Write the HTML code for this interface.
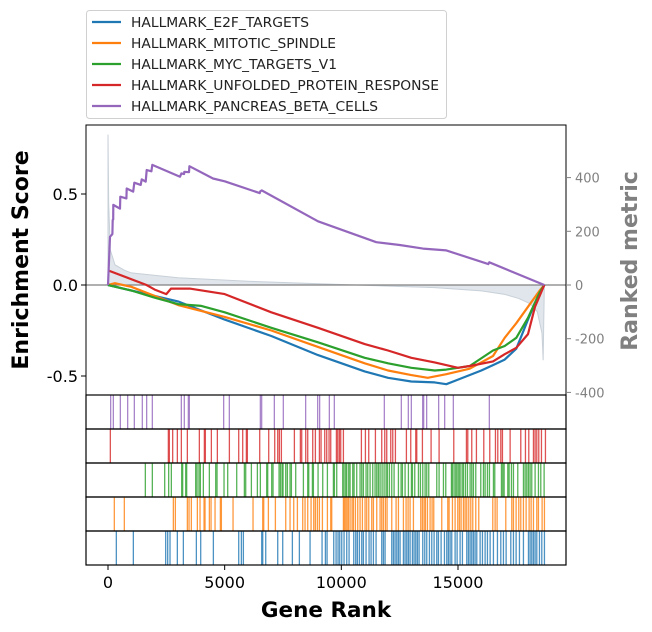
<!DOCTYPE html>
<html><head><meta charset="utf-8"><style>
html,body{margin:0;padding:0;background:#fff;}
svg{display:block;font-family:"DejaVu Sans","Liberation Sans",sans-serif;}
</style></head><body>
<svg id="chart" width="652" height="632" xmlns="http://www.w3.org/2000/svg"></svg>
<script>
// ---- data ----
const seriesNames = ["HALLMARK_E2F_TARGETS","HALLMARK_MITOTIC_SPINDLE","HALLMARK_MYC_TARGETS_V1","HALLMARK_UNFOLDED_PROTEIN_RESPONSE","HALLMARK_PANCREAS_BETA_CELLS"];
const seriesColors = ["#1f77b4","#ff7f0e","#2ca02c","#d62728","#9467bd"];
const xTicks = [0,5000,10000,15000];
const yTicks = [0.5,0.0,-0.5];
const yTickLabels = ["0.5","0.0","-0.5"];
const y2Ticks = [400,200,0,-200,-400];

const e2fRanks = [0,1000,3000,5000,7000,9000,11000,12000,13000,14000,14500,15000,16000,16500,17000,17500,18000,18300,18600,18700];
const e2fES =    [0,-0.03,-0.09,-0.19,-0.28,-0.385,-0.475,-0.51,-0.53,-0.535,-0.545,-0.52,-0.47,-0.44,-0.41,-0.35,-0.19,-0.1,-0.02,0];
const mitRanks = [0,300,1000,3000,5000,7000,9000,11000,12000,13000,13700,14500,15500,16500,17000,17500,18000,18500,18700];
const mitES =    [0,0.01,-0.01,-0.11,-0.175,-0.25,-0.34,-0.43,-0.47,-0.495,-0.51,-0.49,-0.46,-0.39,-0.29,-0.21,-0.12,-0.03,0];
const mycRanks = [0,1000,2000,3000,4000,5000,7000,9000,11000,12000,13000,14000,14500,15500,16500,17000,17500,18000,18500,18700];
const mycES =    [0,-0.03,-0.07,-0.105,-0.115,-0.15,-0.235,-0.315,-0.4,-0.43,-0.455,-0.47,-0.465,-0.445,-0.36,-0.335,-0.29,-0.18,-0.04,0];
const uprRanks = [0,1650,2000,2500,2700,3500,5000,7000,9000,11000,12000,13000,14000,15000,15500,16500,17000,17500,18000,18300,18700];
const uprES =    [0.08,0,-0.025,-0.05,-0.02,-0.02,-0.05,-0.15,-0.235,-0.325,-0.36,-0.4,-0.425,-0.455,-0.445,-0.42,-0.38,-0.345,-0.27,-0.12,0];
const pbcRanks = [0,86,190,200,225,229,514,529,790,800,1080,1129,1400,1443,1615,1657,1860,1900,3086,3144,3260,3272,3470,3487,4500,5000,6500,6529,6586,9000,11500,12500,13500,14500,16300,16343,18700];
const pbcES =    [0,0.265,0.28,0.357,0.36,0.44,0.42,0.485,0.476,0.53,0.513,0.562,0.55,0.58,0.568,0.632,0.625,0.66,0.595,0.613,0.61,0.622,0.62,0.653,0.585,0.57,0.505,0.515,0.52,0.35,0.235,0.22,0.2,0.19,0.115,0.125,0];

const metricRanks =  [0,30,100,300,700,1000,3000,6000,10000,14000,16000,17000,17600,18100,18400,18600,18650,18700];
const metricValues = [560,300,130,75,55,45,27,14,2,-10,-22,-35,-50,-70,-100,-180,-280,0];

const pbcHits = [114,229,529,843,1129,1471,1657,1900,3143,3271,3443,3486,4957,5200,6529,6586,7129,7514,8471,8986,9071,9486,9700,11843,12571,12871,13000,13486,13529,13657,14171,14429,14800,16343];
const uprHits = [100,2586,2629,2772,2972,3144,3401,3915,4130,4173,4430,4687,5202,5602,5773,5930,5973,6502,6888,7145,7274,7345,7431,7988,8245,8302,8474,8560,8774,8888,9060,9131,9289,9374,9474,9546,9789,9846,9917,9974,10089,10860,11032,11175,11461,11732,11861,11946,12118,12204,12318,12789,12975,13190,13233,13475,13847,14190,14819,15362,15419,15590,15790,16105,16362,16605,16705,16834,16905,17234,17691,17891,18034,18234,18305,18377,18462,18577,18748];
const mycHits = [1600,1900,2430,2600,2715,3158,3200,3330,3372,3758,3815,3900,3958,4087,4344,4616,4673,4973,5130,5516,5845,5902,6145,6402,6530,6802,6845,7016,7073,7331,7388,7459,7502,7617,7688,7802,7860,8045,8374,8560,8603,8760,8803,9003,9203,9403,9660,9703,9803,10060,10117,10189,10232,10317,10375,10489,10546,10660,10803,10875,10946,11060,11132,11232,11346,11446,11518,11589,11661,11747,11832,11918,11975,12061,12161,12261,12447,12561,12618,12732,12875,13004,13047,13147,13304,13390,13490,13590,13661,13747,14090,14190,14376,14476,14719,14762,14833,14904,14962,15033,15090,15176,15233,15319,15405,15519,15590,15662,15762,15976,16091,16162,16262,16348,16519,16576,16862,16919,16977,17134,17191,17291,17377,17562,17805,17877,17948,18020,18091,18162,18305,18448,18548,18691];
const mitHits = [271,700,2801,2887,3401,3473,3572,3830,3944,4116,4159,4344,4416,4588,4816,4859,5359,6216,6631,6674,6874,7174,7617,7802,7960,8117,8345,8445,8560,8703,8817,8888,8974,9060,9189,9403,9546,9589,10089,10132,10189,10246,10303,10375,10460,10518,10603,10703,10803,10903,11017,11089,11175,11303,11375,11518,11661,11732,11804,11889,11961,12161,12347,12447,12661,12775,12861,12947,13090,13404,13475,13547,13604,13690,13804,13890,13961,14304,14562,14619,14762,14876,14990,15062,15133,15233,15305,15376,15462,15548,15633,15762,15890,16491,16591,16676,17048,17305,17377,17491,17605,17691,17805,17920,18048,18134,18234,18377,18448,18605,18705];
const e2fHits = [357,1086,2472,2558,2658,2972,3230,3787,3973,4516,5602,5716,5802,6588,6631,6760,7274,7488,7902,8202,8660,9174,9317,9389,9675,9775,9860,9932,10018,10117,10232,10332,10532,10618,10689,10775,10875,10946,11060,11189,11275,11375,11489,11732,11804,11875,12161,12233,12304,12376,12447,12518,12661,12732,12804,12875,12947,13047,13118,13190,13261,13333,13490,13576,13661,13776,13876,13976,14090,14162,14276,14419,14519,14590,14662,14733,14876,14962,15090,15190,15376,15448,15519,15590,15662,15733,15805,15948,16048,16162,16262,16377,16519,16691,16834,16948,17063,17263,17377,17491,17634,17805,18020,18091,18162,18234,18305,18377,18491,18591,18705];

// ---- drawing ----
const NS="http://www.w3.org/2000/svg";
const svg=document.getElementById('chart');
function el(tag,attrs,parent){const e=document.createElementNS(NS,tag);for(const k in attrs)e.setAttribute(k,attrs[k]);(parent||svg).appendChild(e);return e;}
const L=86,R=566,T=125,B=395;
function xs(r){return 108+r*0.023333;}
function ys(v){return 285-v*182;}
function y2s(v){return 285-v*0.2685;}

// metric fill
let pts=metricRanks.map((r,i)=>xs(r)+","+y2s(metricValues[i]));
pts.push(xs(metricRanks[metricRanks.length-1])+","+y2s(0));
pts.push(xs(0)+","+y2s(0));
const fill=el('polygon',{points:pts.join(' '),fill:'#d5dde4','fill-opacity':'0.75',stroke:'#c8d0d8','stroke-width':'1'});


const zl=el('line',{x1:L,x2:R,y1:y2s(0),y2:y2s(0),stroke:'#808080','stroke-width':'1.2'});



// ES curves
const esR=[e2fRanks,mitRanks,mycRanks,uprRanks,pbcRanks];
const esV=[e2fES,mitES,mycES,uprES,pbcES];
const esNames=['es-curve-e2f','es-curve-mitotic-spindle','es-curve-myc','es-curve-upr','es-curve-pancreas-beta'];
for(let s=0;s<5;s++){
  const p=el('polyline',{points:esR[s].map((r,i)=>xs(r).toFixed(1)+","+ys(esV[s][i]).toFixed(1)).join(' '),fill:'none',stroke:seriesColors[s],'stroke-width':'2.2','stroke-linejoin':'round'});
  
  
}
// main frame
const fr=el('rect',{x:L,y:T,width:R-L,height:B-T,fill:'none',stroke:'#000','stroke-width':'1'});



// left ticks
yTicks.forEach((v,i)=>{
  el('line',{x1:L-5,x2:L,y1:ys(v),y2:ys(v),stroke:'#000'});
  const t=el('text',{x:L-8,y:ys(v)+6,'text-anchor':'end','font-size':'16',fill:'#000'});
  t.textContent=yTickLabels[i];
  
  
});
// right ticks
y2Ticks.forEach(v=>{
  el('line',{x1:R,x2:R+5,y1:y2s(v),y2:y2s(v),stroke:'#808080'});
  const t=el('text',{x:R+9,y:y2s(v)+5,'font-size':'13',fill:'#808080'});
  t.textContent=String(v);
  
  
});

// rugs
const hits=[pbcHits,uprHits,mycHits,mitHits,e2fHits];
const rugCol=[4,3,2,1,0];
const rugNames=['rug-pancreas-beta','rug-upr','rug-myc','rug-mitotic-spindle','rug-e2f'];
for(let k=0;k<5;k++){
  const y0=395+k*34,y1=y0+34;
  const g=el('g',{});
  
  
  hits[k].forEach(r=>{el('line',{x1:xs(r),x2:xs(r),y1:y0,y2:y1,stroke:seriesColors[rugCol[k]],'stroke-width':'1.3','stroke-opacity':'0.8'},g);});
  el('rect',{x:L,y:y0,width:R-L,height:34,fill:'none',stroke:'#000','stroke-width':'1.2'});
}
// x ticks
xTicks.forEach(v=>{
  el('line',{x1:xs(v),x2:xs(v),y1:565,y2:570,stroke:'#000'});
  const t=el('text',{x:xs(v),y:588,'text-anchor':'middle','font-size':'16',fill:'#000'});
  t.textContent=String(v);
  
  
});
// axis titles
let t=el('text',{x:326,y:617,'text-anchor':'middle','font-size':'21.5','font-weight':'bold',fill:'#000'});
t.textContent='Gene Rank';


t=el('text',{x:0,y:0,'text-anchor':'middle','font-size':'22','font-weight':'bold',fill:'#000',transform:'translate(28,260) rotate(-90)'});
t.textContent='Enrichment Score';


t=el('text',{x:0,y:0,'text-anchor':'middle','font-size':'22','font-weight':'bold',fill:'#808080',transform:'translate(637,261) rotate(-90)'});
t.textContent='Ranked metric';



// legend
const lg=el('g',{});


el('rect',{x:86.5,y:10.5,width:360,height:108,rx:3,fill:'#fff',stroke:'#d0d0d0'},lg);
const lw=[178,205,206,308,247];
seriesNames.forEach((n,i)=>{
  const cy=22+i*21;
  const ln=el('line',{x1:92,x2:121,y1:cy,y2:cy,stroke:seriesColors[i],'stroke-width':'2.2'},lg);
  
  
  const tx=el('text',{x:131,y:cy+5,'font-size':'13',fill:'#222',textLength:lw[i],lengthAdjust:'spacingAndGlyphs'},lg);
  tx.textContent=n;
  
  
});
</script>
</body></html>
